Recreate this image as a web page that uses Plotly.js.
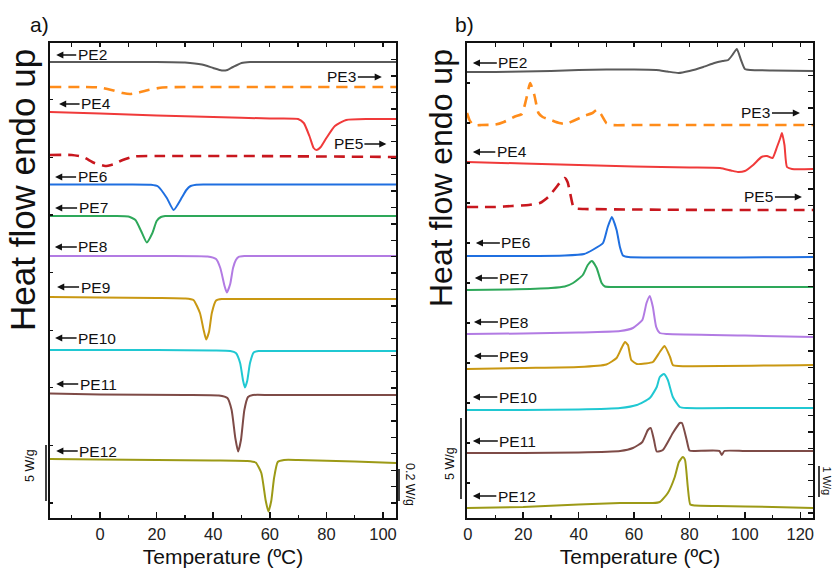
<!DOCTYPE html>
<html>
<head>
<meta charset="utf-8">
<script src="https://cdn.plot.ly/plotly-3.0.1.min.js"></script>
<style>html,body{margin:0;padding:0;background:#fff;}#chart{width:834px;height:575px;}</style>
</head>
<body>
<div id="chart"></div>
<script>
// ---------- Panel a) (temperature in °C, stacked heat flow, arbitrary units) ----------
const a_PE2_T = [-17.7, 0, 20, 30, 36, 40, 43, 45, 47, 50, 53, 70, 90, 104.6];
const a_PE2_Y = [456, 456, 456, 455.5, 453.5, 450, 447.5, 448, 451, 455, 456, 456, 456, 456];
const a_PE3_T = [-17.7, -5, 0, 4, 8, 10.6, 13, 17, 22, 30, 60, 104.6];
const a_PE3_Y = [431, 431, 430.5, 428, 425, 424, 425, 428, 430.5, 431, 431, 431];
const a_PE4_T = [-17.7, 0, 20, 40, 60, 70, 72, 74, 75.5, 76.5, 78, 80, 83, 87, 95, 104.6];
const a_PE4_Y = [406, 404.5, 402.5, 401, 399.5, 399, 395, 382, 370, 368, 371, 380, 392, 398, 399, 399];
const a_PE5_T = [-17.7, -10, -6, -2, 1.8, 5, 8, 12, 20, 50, 104.6];
const a_PE5_Y = [363, 363, 361, 355, 352, 354, 358, 361.5, 362, 362, 361];
const a_PE6_T = [-17.7, 10, 18, 20.5, 23.6, 26, 29, 30.5, 32, 34, 37, 104.6];
const a_PE6_Y = [333.5, 333.5, 333.2, 331.5, 320, 308, 321, 328, 332, 333.3, 333.5, 333.5];
const a_PE7_T = [-17.7, 5, 10, 12.5, 14.5, 16.5, 18.5, 20, 21.5, 23, 30, 104.6];
const a_PE7_Y = [302, 302, 301.5, 298, 287, 275.5, 285, 297, 301, 302, 302, 302];
const a_PE8_T = [-17.7, 20, 38, 41, 42.5, 44, 44.8, 46, 47, 48, 49, 51, 60, 104.6];
const a_PE8_Y = [262, 262, 261.5, 259, 250, 232, 225.5, 234, 250, 258, 261.2, 262, 262, 262];
const a_PE9_T = [-17.7, 0, 20, 30, 33, 35.3, 36.6, 37.5, 38.5, 39.5, 41, 43, 50, 70, 104.6];
const a_PE9_Y = [221, 220.5, 220, 219.5, 218, 205, 188, 178.5, 186, 205, 217.5, 219, 219, 219, 219];
const a_PE10_T = [-17.7, 20, 40, 46, 48, 49.5, 50.5, 51.2, 52, 53, 54.3, 56, 60, 104.6];
const a_PE10_Y = [168, 168, 167.5, 167, 165, 155, 138, 130.5, 137, 155, 165.5, 167, 167, 167];
const a_PE11_T = [-17.7, 0, 30, 42, 45, 46.5, 47.8, 48.8, 49.8, 51, 52.3, 54, 60, 104.6];
const a_PE11_Y = [124.5, 123.5, 123, 122.5, 120, 108, 80, 66.5, 78, 108, 121, 123, 123, 123];
const a_PE12_T = [-17.7, 0, 20, 40, 52, 55, 57, 58.5, 59.5, 60.5, 61.5, 62.8, 65, 70, 90, 104.6];
const a_PE12_Y = [59, 58.5, 58, 57.5, 57, 55.5, 45, 18, 6.5, 17, 40, 56, 58, 58, 56.5, 55];

// ---------- Panel b) ----------
const b_PE2_T = [-0.3, 10, 20, 30, 40, 50, 60, 68, 72, 76, 80, 85, 89, 92, 94, 95.5, 97.1, 98.6, 100, 102, 110, 124.6];
const b_PE2_Y = [446, 446, 446.5, 447, 448, 448.5, 448.5, 448, 446.5, 445, 447, 451, 455, 457, 458, 463, 469, 458, 449, 448, 447.5, 447];
const b_PE3_T = [-0.3, 0.6, 2, 5, 10, 13, 17, 19.5, 21, 22.5, 24, 25.5, 27, 30, 33, 35.5, 38, 42, 45, 46.5, 48, 50, 52, 60, 80, 124.6];
const b_PE3_Y = [405, 398, 393, 393, 393.5, 396, 401.5, 404, 418, 435, 423, 405, 401, 398, 395, 394, 397, 402, 405, 408, 404, 395, 393, 393, 393, 393];
const b_PE4_T = [-0.3, 20, 40, 60, 80, 91, 95, 97.5, 100, 103, 106, 108, 110, 111.6, 112.8, 113.4, 114.3, 115.2, 117, 124.6];
const b_PE4_Y = [356, 354.5, 353, 351.5, 350.5, 350, 347.5, 346, 347, 353, 361, 362, 360, 371, 380, 385, 373, 351, 349, 349];
const b_PE5_T = [-0.3, 5, 10, 16, 22, 26, 29, 32, 34, 35, 36, 37, 38, 39, 42, 60, 90, 124.6];
const b_PE5_Y = [311, 311, 311, 312, 313, 315, 321, 331, 338, 340, 336, 324, 312, 309.5, 309, 308.5, 308, 308];
const b_PE6_T = [-0.3, 20, 35, 42, 45, 48.8, 50.5, 52, 53.7, 54.9, 56, 58, 124.6];
const b_PE6_Y = [262, 262, 262.5, 264, 268, 275, 291, 301, 288, 271, 262.5, 261, 261];
const b_PE7_T = [-0.3, 15, 30, 35, 38, 41.5, 43.3, 44.8, 46.5, 48.3, 49.5, 52, 124.6];
const b_PE7_Y = [228, 228.5, 230, 231.5, 235, 243, 253, 257, 250, 235, 231.5, 231, 231];
const b_PE8_T = [-0.3, 20, 40, 55, 59.6, 63, 64.5, 65.7, 66.8, 68, 69.3, 72, 100, 124.6];
const b_PE8_Y = [184, 184.5, 185.5, 187, 190, 198, 215, 222, 211, 191, 185, 184, 182.5, 181];
const b_PE9_T = [-0.3, 20, 40, 50, 53.7, 55.5, 56.7, 57.8, 59, 61, 64, 66.8, 69.3, 71, 73, 74, 76, 124.6];
const b_PE9_Y = [149, 150, 151, 153.5, 160, 170, 176, 173, 158, 154, 154.5, 156, 166, 172, 161, 153, 152, 153];
const b_PE10_T = [-0.3, 20, 40, 55, 61, 65.7, 68.2, 69.3, 70.8, 72.2, 74, 76.5, 79, 100, 124.6];
const b_PE10_Y = [108, 108, 108.5, 110, 113, 120, 131, 141, 144, 138, 121, 111, 110, 110, 110];
const b_PE11_T = [-0.3, 20, 40, 55, 59.6, 63, 65, 66, 67.2, 68.2, 70.4, 74, 76.5, 77.3, 79, 80, 82, 90.8, 91.7, 92.6, 100, 124.6];
const b_PE11_Y = [65, 65, 65.5, 67, 70, 76, 88, 90, 78, 66.5, 68, 85, 95, 95, 78, 67.5, 67, 67, 63, 67, 67, 67];
const b_PE12_T = [-0.3, 20, 40, 55, 66.8, 69.3, 72.2, 74.7, 76.2, 77.6, 78.4, 79.4, 80.3, 82, 90, 110, 124.6];
const b_PE12_Y = [10, 11, 13.5, 15, 15, 16, 25, 41, 56, 61, 58, 31, 13.5, 12.5, 12, 11, 10];

const names = ['PE2','PE3','PE4','PE5','PE6','PE7','PE8','PE9','PE10','PE11','PE12'];
const colors = ['#5a5a5a','#FF8C1A','#F03A3A','#C8171E','#1F6FE0','#2EA85A','#B27BE3','#C99812','#20C8D2','#7E4B47','#9C9A16'];
const dashed = ['PE3','PE5'];

const aData = {PE2:[a_PE2_T,a_PE2_Y],PE3:[a_PE3_T,a_PE3_Y],PE4:[a_PE4_T,a_PE4_Y],PE5:[a_PE5_T,a_PE5_Y],PE6:[a_PE6_T,a_PE6_Y],PE7:[a_PE7_T,a_PE7_Y],PE8:[a_PE8_T,a_PE8_Y],PE9:[a_PE9_T,a_PE9_Y],PE10:[a_PE10_T,a_PE10_Y],PE11:[a_PE11_T,a_PE11_Y],PE12:[a_PE12_T,a_PE12_Y]};
const bData = {PE2:[b_PE2_T,b_PE2_Y],PE3:[b_PE3_T,b_PE3_Y],PE4:[b_PE4_T,b_PE4_Y],PE5:[b_PE5_T,b_PE5_Y],PE6:[b_PE6_T,b_PE6_Y],PE7:[b_PE7_T,b_PE7_Y],PE8:[b_PE8_T,b_PE8_Y],PE9:[b_PE9_T,b_PE9_Y],PE10:[b_PE10_T,b_PE10_Y],PE11:[b_PE11_T,b_PE11_Y],PE12:[b_PE12_T,b_PE12_Y]};

const FONT = 'Liberation Sans, Arial, sans-serif';
const traces = [];
function addTraces(data, xa, ya) {
  names.forEach((n, i) => {
    const isD = dashed.includes(n);
    traces.push({
      x: data[n][0], y: data[n][1], xaxis: xa, yaxis: ya, mode: 'lines', name: n,
      line: {color: colors[i], width: isD ? 2.6 : 2, dash: isD ? '11px,7px' : 'solid', shape: 'spline', smoothing: 0.5},
      hoverinfo: 'x+y+name'
    });
  });
}
addTraces(aData, 'x', 'y');
addTraces(bData, 'x2', 'y2');
// empty traces so the overlay tick axes exist
traces.push({x: [], y: [], xaxis: 'x3', yaxis: 'y', mode: 'lines', showlegend: false});
traces.push({x: [], y: [], xaxis: 'x', yaxis: 'y3', mode: 'lines', showlegend: false});
traces.push({x: [], y: [], xaxis: 'x4', yaxis: 'y2', mode: 'lines', showlegend: false});
traces.push({x: [], y: [], xaxis: 'x2', yaxis: 'y4', mode: 'lines', showlegend: false});

// label placement: [name, temperature of arrow head, level, text offset px]
const labelsA = [
  ['PE2', -15.5, 463, 36], ['PE3', 99.6, 441, -40], ['PE4', -14.5, 414, 37], ['PE5', 101.2, 374, -38],
  ['PE6', -15.9, 341, 37], ['PE7', -15.9, 310, 38], ['PE8', -16.0, 271, 38], ['PE9', -15.2, 231, 38],
  ['PE10', -15.9, 180, 42], ['PE11', -15.5, 134, 42], ['PE12', -15.5, 67, 42]
];
const labelsB = [
  ['PE2', 1.8, 455, 40], ['PE3', 119.9, 405, -44], ['PE4', 1.8, 366, 39], ['PE5', 120.6, 321, -43],
  ['PE6', 2.9, 275, 40], ['PE7', 2.5, 240, 39], ['PE8', 2.2, 196, 40], ['PE9', 2.2, 162, 40],
  ['PE10', 1.8, 121, 45], ['PE11', 1.8, 77, 45], ['PE12', 1.8, 22, 44]
];
const annotations = [];
function addLabels(list, xr, yr) {
  list.forEach(l => annotations.push({
    x: l[1], y: l[2], xref: xr, yref: yr, text: l[0], showarrow: true,
    ax: l[3], ay: 0, axref: 'pixel', ayref: 'pixel',
    arrowhead: 2, arrowsize: 1.1, arrowwidth: 1.3, arrowcolor: '#111', standoff: 0,
    font: {family: FONT, size: 15.5, color: '#111'}
  }));
}
addLabels(labelsA, 'x', 'y');
addLabels(labelsB, 'x2', 'y2');

const W = 834, H = 575;
const px = v => v / W, py = v => 1 - v / H;
function txt(text, x, y, size, angle) {
  annotations.push({text: text, x: px(x), y: py(y), xref: 'paper', yref: 'paper', showarrow: false,
    textangle: angle || 0, xanchor: 'center', yanchor: 'middle', font: {family: FONT, size: size, color: '#111'}});
}
txt('a)', 39, 25, 21);
txt('b)', 464, 25, 21);
txt('Heat flow endo up', 22, 190, 35, -90);
txt('Heat flow endo up', 441, 178, 32, -90);
txt('5 W/g', 30, 466, 12.5, -90);
txt('0.2 W/g', 410, 484, 12.5, 90);
txt('5 W/g', 450, 464, 12.5, -90);
txt('1 W/g', 826.5, 481, 11, 90);

function vline(x, y0, y1) {
  return {type: 'line', xref: 'paper', yref: 'paper', x0: px(x), x1: px(x), y0: py(y0), y1: py(y1), line: {color: '#111', width: 1.6}};
}
const shapes = [vline(46, 445, 501), vline(399, 469, 501), vline(461, 418, 499), vline(819, 466, 497)];

const yDom = [(H - 518) / H, (H - 43) / H];
const baseX = {
  ticks: 'inside', tickcolor: '#111', tickwidth: 1.5, ticklen: 6, showgrid: false, zeroline: false,
  showline: true, linecolor: '#111', linewidth: 2, mirror: true, tickmode: 'linear', tick0: 0, dtick: 20,
  minor: {ticks: 'inside', dtick: 10, ticklen: 3, tickcolor: '#111', tickwidth: 1.2, showgrid: false},
  tickfont: {family: FONT, size: 16.5, color: '#222'},
  title: {text: 'Temperature (ºC)', font: {family: FONT, size: 21, color: '#111'}, standoff: 8}
};
const topX = {ticks: 'inside', tickcolor: '#111', tickwidth: 1.3, ticklen: 4, showgrid: false, zeroline: false,
  showline: false, showticklabels: false, tickmode: 'linear', tick0: 0, dtick: 10, side: 'top'};
const baseY = {range: [0, 475], ticks: 'inside', tickcolor: '#111', tickwidth: 1.3, ticklen: 3, showgrid: false,
  zeroline: false, showline: true, linecolor: '#111', linewidth: 2, mirror: true, showticklabels: false, tickmode: 'linear'};
const rightY = {range: [0, 475], ticks: 'inside', tickcolor: '#111', tickwidth: 1.3, ticklen: 5, showgrid: false,
  zeroline: false, showline: false, showticklabels: false, tickmode: 'linear', side: 'right'};

const layout = {
  width: W, height: H, margin: {l: 0, r: 0, t: 0, b: 0}, paper_bgcolor: '#fff', plot_bgcolor: '#fff',
  showlegend: false, font: {family: FONT, color: '#111'},
  xaxis: Object.assign({}, baseX, {domain: [50 / W, 396 / W], range: [-17.7, 104.6], anchor: 'y'}),
  xaxis2: Object.assign({}, baseX, {domain: [467 / W, 813 / W], range: [-0.3, 124.6], anchor: 'y2'}),
  xaxis3: Object.assign({}, topX, {overlaying: 'x', anchor: 'y', range: [-17.7, 104.6]}),
  xaxis4: Object.assign({}, topX, {overlaying: 'x2', anchor: 'y2', range: [-0.3, 124.6]}),
  yaxis: Object.assign({}, baseY, {domain: yDom, anchor: 'x', tick0: 15, dtick: 57.6}),
  yaxis2: Object.assign({}, baseY, {domain: yDom, anchor: 'x2', tick0: 35, dtick: 40}),
  yaxis3: Object.assign({}, rightY, {overlaying: 'y', anchor: 'x', tick0: 15, dtick: 16.42}),
  yaxis4: Object.assign({}, rightY, {overlaying: 'y2', anchor: 'x2', tick0: 5, dtick: 16.2}),
  annotations: annotations, shapes: shapes
};
Plotly.newPlot('chart', traces, layout, {staticPlot: true, displayModeBar: false});
</script>
</body>
</html>
